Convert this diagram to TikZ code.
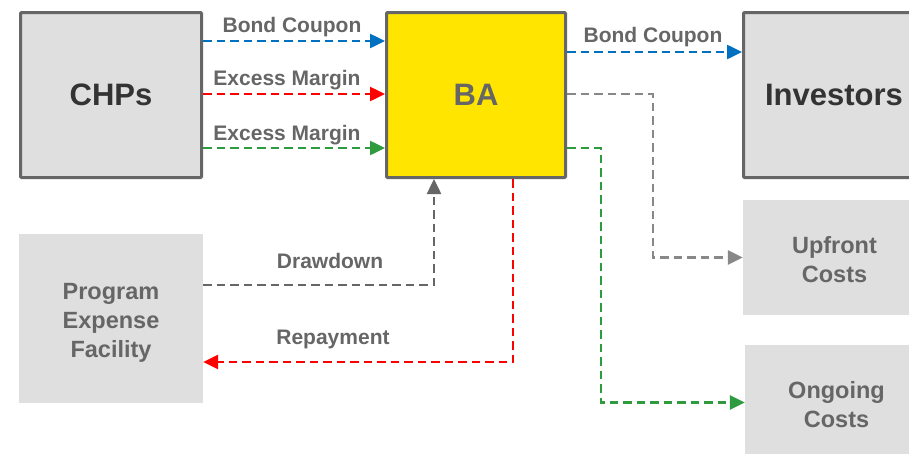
\documentclass[tikz,border=0pt]{standalone}
\usepackage{fontspec}
\setmainfont{Liberation Sans}
\usetikzlibrary{arrows.meta}
\definecolor{boxgray}{HTML}{DFDFDF}
\definecolor{bordergray}{HTML}{666666}
\definecolor{darktext}{HTML}{333333}
\definecolor{midtext}{HTML}{666666}
\definecolor{bayellow}{HTML}{FFE500}
\definecolor{cblue}{HTML}{0070C0}
\definecolor{cred}{HTML}{FF0000}
\definecolor{cgreen}{HTML}{2E9B3E}
\definecolor{cgray}{HTML}{888888}
\definecolor{cdgray}{HTML}{666666}
\newcommand{\sbtext}[1]{\raisebox{-4.5pt}[\height][\depth]{\begin{tabular}{@{}c@{}}#1\end{tabular}}}
\tikzset{
  bigbox/.style={draw=bordergray, line width=3pt, rounded corners=1pt, fill=boxgray,
    minimum width=181pt, minimum height=165pt, inner sep=0pt,
    font=\fontsize{31}{36}\selectfont\bfseries, text=darktext},
  softbox/.style={fill=boxgray, inner sep=0pt, align=center,
    font=\fontsize{23.5}{29}\selectfont\bfseries, text=midtext},
  lbl/.style={font=\fontsize{21}{25}\selectfont\bfseries, text=midtext, inner sep=0pt},
  flow/.style={line width=2.5pt, dash pattern=on 8.5pt off 5pt,
    -{Triangle[length=15pt,width=14pt]}}
}
\begin{document}
\begin{tikzpicture}[x=1pt,y=-1pt]
\clip (0,0) rectangle (909,453);
\fill[white] (0,0) rectangle (909,453);
% boxes
\node[bigbox] (CHPs) at (111,95) {CHPs};
\node[bigbox, fill=bayellow, text=midtext, minimum width=179pt] (BA) at (476,95) {BA};
\node[bigbox] (Inv) at (834,95) {Investors};
\node[softbox, minimum width=183pt, minimum height=115pt] (Up) at (834.5,257.5) {\sbtext{Upfront\\Costs}};
\node[softbox, minimum width=183pt, minimum height=115pt] (On) at (836.5,402.5) {\sbtext{Ongoing\\Costs}};
\node[softbox, minimum width=184pt, minimum height=169pt] (Prog) at (111,318.5) {\sbtext{Program\\Expense\\Facility}};
% connectors
\draw[flow, cblue] ([yshift=54pt]CHPs.east) -- ([yshift=54pt]BA.west);
\draw[flow, cred] ([yshift=1pt]CHPs.east) -- ([yshift=1pt]BA.west);
\draw[flow, cgreen] ([yshift=-53pt]CHPs.east) -- ([yshift=-53pt]BA.west);
\draw[flow, cblue] ([yshift=43pt]BA.east) -- ([yshift=43pt]Inv.west);
\draw[flow, cgray] ([yshift=1pt]BA.east) -- ++(86,0) |- (Up.west);
\draw[flow, cgreen] ([yshift=-53pt]BA.east) -- ++(34,0) |- (On.west);
\draw[flow, cred] ([xshift=37pt]BA.south) |- ([yshift=-43.5pt]Prog.east);
\draw[flow, cdgray] ([yshift=33.5pt]Prog.east) -| ([xshift=-42pt]BA.south);
% labels
\node[lbl] (l1) at (292,27) {Bond Coupon};
\node[lbl] (l2) at (287,80) {Excess Margin};
\node[lbl] (l3) at (287,135) {Excess Margin};
\node[lbl] (l4) at (653,37) {Bond Coupon};
\node[lbl] (l5) at (330,261) {Drawdown};
\node[lbl] (l6) at (333,339.5) {Repayment};
\end{tikzpicture}
\end{document}
